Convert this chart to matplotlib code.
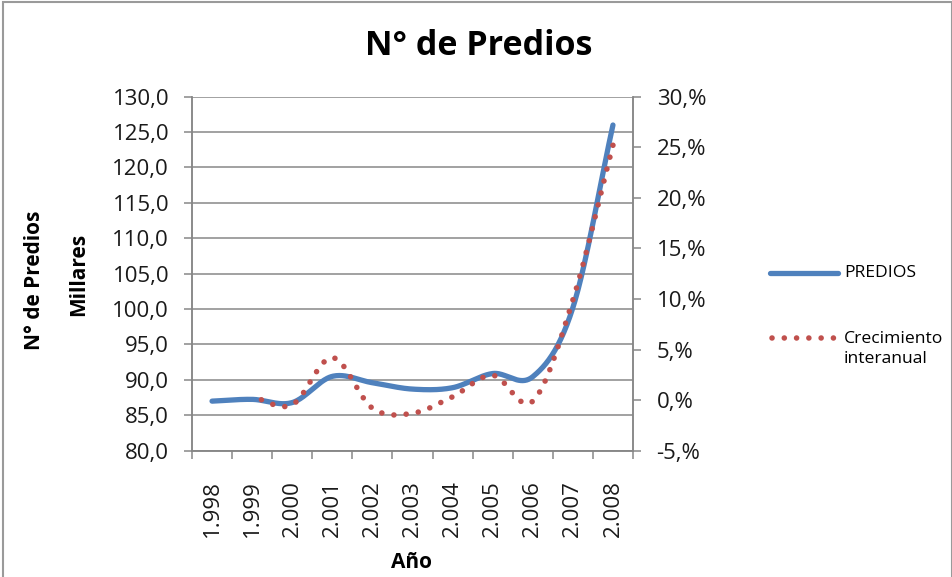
import numpy as np
import matplotlib
matplotlib.use("Agg")
import matplotlib.pyplot as plt
from matplotlib.lines import Line2D
from matplotlib.patches import Rectangle
from matplotlib.ticker import FuncFormatter, FixedLocator

plt.rcParams['font.family'] = ['Open Sans', 'DejaVu Sans']

# ---- data ----
years = [1998, 1999, 2000, 2001, 2002, 2003, 2004, 2005, 2006, 2007, 2008]
year_labels = ["1.998", "1.999", "2.000", "2.001", "2.002", "2.003",
               "2.004", "2.005", "2.006", "2.007", "2.008"]
predios = [87.0, 87.25, 86.8, 90.5, 89.6, 88.7, 88.9, 90.9, 90.45, 100.2, 126.0]
growth_years = [1999, 2000, 2001, 2002, 2003, 2004, 2005, 2006, 2007, 2008]
crecimiento = [0.33, -0.45, 4.2, -0.8, -1.3, 0.33, 2.45, -0.1, 9.9, 25.2]


def catmull_rom(x, y, n=40):
    x = np.asarray(x, float)
    y = np.asarray(y, float)
    px = np.concatenate([[2 * x[0] - x[1]], x, [2 * x[-1] - x[-2]]])
    py = np.concatenate([[2 * y[0] - y[1]], y, [2 * y[-1] - y[-2]]])
    xs, ys = [], []
    for i in range(1, len(px) - 2):
        t = np.linspace(0, 1, n, endpoint=(i == len(px) - 3))
        for P, out in ((px, xs), (py, ys)):
            p0, p1, p2, p3 = P[i - 1], P[i], P[i + 1], P[i + 2]
            out.append(0.5 * ((2 * p1) + (-p0 + p2) * t
                              + (2 * p0 - 5 * p1 + 4 * p2 - p3) * t ** 2
                              + (-p0 + 3 * p1 - 3 * p2 + p3) * t ** 3))
    return np.concatenate(xs), np.concatenate(ys)


W, H = 953, 577
fig = plt.figure(figsize=(W / 100, H / 100), dpi=100)
fig.patch.set_facecolor("white")

L, R, T, B = 192, 633, 96.7, 450.7
ax = fig.add_axes([L / W, 1 - B / H, (R - L) / W, (B - T) / H])
ax2 = ax.twinx()

grid_c = "#878787"
blue = "#4F81BD"
red = "#C0504D"
dots = (0, (0.01, 2.2))

pos = np.arange(len(years))
gpos = np.array([years.index(y) for y in growth_years])

xb, yb = catmull_rom(pos, predios)
ax.plot(xb, yb, color=blue, lw=3.8, solid_capstyle="round", zorder=3)
xr, yr = catmull_rom(gpos, crecimiento)
ax2.plot(xr[::-1], yr[::-1], color=red, lw=4.0, linestyle=dots,
         dash_capstyle="round", zorder=4)

ax.set_xlim(-0.5, len(years) - 0.5)
ax.set_ylim(80, 130)
ax2.set_ylim(-5, 30)

ax.set_yticks(np.arange(80, 131, 5))
ax.yaxis.set_major_formatter(FuncFormatter(lambda v, p: f"{v:.1f}".replace(".", ",")))
ax2.set_yticks(np.arange(-5, 31, 5))
ax2.yaxis.set_major_formatter(FuncFormatter(lambda v, p: f"{int(v)},%"))

ax.xaxis.set_major_locator(FixedLocator(np.arange(-0.5, len(years), 1.0)))
ax.xaxis.set_major_formatter(FuncFormatter(lambda v, p: ""))
ax.xaxis.set_minor_locator(FixedLocator(pos))
ax.set_xticklabels(year_labels, minor=True, rotation=90, va="top", ha="center")

ax.grid(axis="y", color=grid_c, lw=1.1)
ax.set_axisbelow(True)

for a in (ax, ax2):
    for s in a.spines.values():
        s.set_color(grid_c)
        s.set_linewidth(1.1)
    a.spines["top"].set_visible(False)
    a.set_facecolor("none")

ax.tick_params(axis="y", which="major", length=6, width=1.1, color=grid_c,
               labelsize=16, labelcolor="#1a1a1a", pad=10.5)
ax2.tick_params(axis="y", which="major", length=6, width=1.1, color=grid_c,
                labelsize=16, labelcolor="#1a1a1a", pad=11)
ax.tick_params(axis="x", which="major", length=6, width=1.1, color=grid_c)
ax.tick_params(axis="x", which="minor", length=0, labelsize=16,
               labelcolor="#1a1a1a", pad=21.5)

# titles and axis labels
fig.text(479 / W, 1 - 46 / H, "N° de Predios", ha="center", va="center",
         fontsize=24.5, fontweight="bold", color="black")
fig.text(412 / W, 1 - 563 / H, "Año", ha="center", va="center",
         fontsize=15, fontweight="bold", color="black")
fig.text(35 / W, 1 - 280 / H, "N° de Predios", ha="center", va="center",
         rotation=90, fontsize=15, fontweight="bold", color="black")
fig.text(79 / W, 1 - 274 / H, "Millares", ha="center", va="center",
         rotation=90, fontsize=15, fontweight="bold", color="black")

# legend
fig.add_artist(Line2D([770 / W, 838 / W], [1 - 272.7 / H] * 2, color=blue,
                      lw=3.8, solid_capstyle="round"))
fig.text(844 / W, 1 - 272.7 / H, "PREDIOS", ha="left", va="center",
         fontsize=12.6, color="black")
fig.add_artist(Line2D([772 / W, 836 / W], [1 - 338 / H] * 2, color=red,
                      lw=4.0, linestyle=dots, dash_capstyle="round"))
fig.text(844 / W, 1 - 349 / H, "Crecimiento\ninteranual", ha="left",
         va="center", fontsize=12.6, linespacing=1.3, color="black")

# outer border
fig.add_artist(Rectangle((3.5 / W, -0.02), (952 - 3.5) / W, 1.02 - 2 / H,
                         transform=fig.transFigure, fill=False,
                         edgecolor="#9a9a9a", lw=1.5))

fig.savefig("out.png", dpi=100)
